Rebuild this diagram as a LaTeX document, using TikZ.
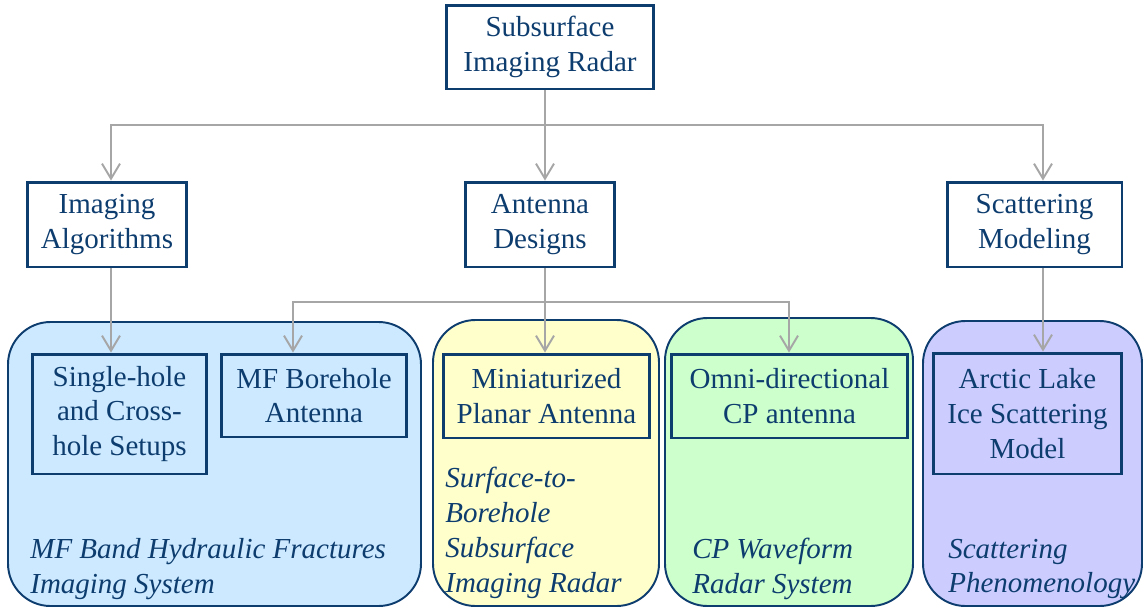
\documentclass[tikz,border=0pt]{standalone}
\usepackage{fontspec}
\setmainfont{Liberation Serif}
\usetikzlibrary{arrows.meta}
\definecolor{navy}{HTML}{0D3C6E}
\definecolor{linkgray}{HTML}{A6A6A6}
\definecolor{bluefill}{HTML}{CCE9FF}
\definecolor{yellowfill}{HTML}{FFFFCC}
\definecolor{greenfill}{HTML}{CCFFCC}
\definecolor{purplefill}{HTML}{CCCCFF}
\tikzset{
  box/.style={draw=navy, line width=1.7pt, text=navy, align=center, inner sep=0pt,
    font=\fontsize{16.5}{19.8}\selectfont},
  group/.style={draw=navy, line width=1.1pt, rounded corners=0.85cm},
  note/.style={text=navy, align=left, anchor=west, inner sep=0pt,
    font=\fontsize{16.5}{19.8}\selectfont\itshape},
  line/.style={draw=linkgray, line width=1.1pt},
  link/.style={line, -{Straight Barb[length=3mm,width=3.6mm]}}
}
\begin{document}
\begin{tikzpicture}[x=0.02cm, y=-0.02cm]
\useasboundingbox (0,0) rectangle (1143,609);
% coloured groups
\draw[group, fill=bluefill] (8,322) rectangle (421,606);
\draw[group, fill=yellowfill] (433,320) rectangle (659,606);
\draw[group, fill=greenfill] (665,318) rectangle (913,606);
\draw[group, fill=purplefill] (923,321) rectangle (1142,606);
% boxes
\node[box, minimum width=4.16cm, minimum height=1.68cm] (root) at (550,47) {Subsurface\\Imaging Radar};
\node[box, minimum width=3.2cm, minimum height=1.7cm] (alg) at (107,224.5) {Imaging\\Algorithms};
\node[box, minimum width=3.0cm, minimum height=1.7cm] (ant) at (540,224.5) {Antenna\\Designs};
\node[box, minimum width=3.5cm, minimum height=1.7cm] (sca) at (1034.5,224.5) {Scattering\\Modeling};
\node[box, minimum width=3.5cm, minimum height=2.4cm] (single) at (119.5,414) {Single-hole\\and Cross-\\hole Setups};
\node[box, minimum width=3.72cm, minimum height=1.66cm] (mfb) at (314,395.5) {MF Borehole\\Antenna};
\node[box, minimum width=4.14cm, minimum height=1.68cm] (mini) at (546.5,396) {Miniaturized\\Planar Antenna};
\node[box, minimum width=4.74cm, minimum height=1.68cm] (omni) at (789.5,396) {Omni-directional\\CP antenna};
\node[box, minimum width=3.78cm, minimum height=2.42cm] (arctic) at (1027.5,413.5) {Arctic Lake\\Ice Scattering\\Model};
% group captions
\node[note] (capmf) at (30,569) {MF Band Hydraulic Fractures\\Imaging System};
\node[note] (capsb) at (445,533) {Surface-to-\\Borehole\\Subsurface\\Imaging Radar};
\node[note] (capcp) at (692,569) {CP Waveform\\Radar System};
\node[note] (capsc) at (948,569) {Scattering\\Phenomenology};
% connectors
\coordinate (hub) at (545,125);
\coordinate (la) at (111,125);
\coordinate (ra) at (1043,125);
\coordinate (lb) at (293,302);
\coordinate (rb) at (789,302);
\draw[link] (root.south -| hub) -- (ant.north -| hub);
\draw[link] (hub) -| (alg.north -| la);
\draw[link] (hub) -| (sca.north -| ra);
\draw[link] (alg.south -| la) -- (single.north -| la);
\draw[link] (sca.south -| ra) -- (arctic.north -| ra);
\draw[link] (ant.south -| hub) -- (mini.north -| hub);
\draw[link] (hub |- lb) -| (mfb.north -| lb);
\draw[link] (hub |- rb) -| (omni.north -| rb);
\end{tikzpicture}
\end{document}
